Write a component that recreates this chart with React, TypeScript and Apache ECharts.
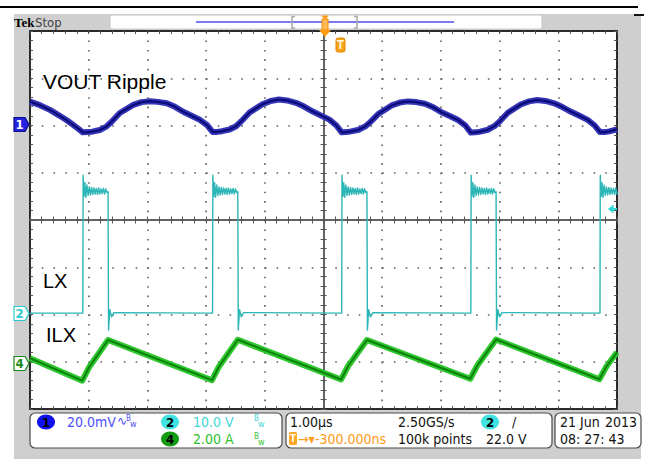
import React, { useEffect, useRef } from 'react';
import * as echarts from 'echarts';

// ---------- time base: 1.00 µs/div, 10 divisions ----------
const timeMin = 0;
const timeMax = 10;

// ---------- CH1 : VOUT ripple (mV), 20.0 mV/div, reference at division 6 ----------
const ch1PerDiv = 20;
const ch1RefDiv = 6;
const rippleT = [
  0.00, 0.17, 0.34, 0.50, 0.62, 0.74, 0.82, 0.90, 0.98, 1.06, 1.19, 1.30, 1.39, 1.53, 1.76, 1.90, 2.04, 2.18, 2.33, 2.47, 2.61, 2.76, 2.90, 3.02, 3.11,
  3.19, 3.27, 3.40, 3.51, 3.60, 3.74, 3.96, 4.10, 4.24, 4.38, 4.53, 4.67, 4.81, 4.96, 5.10, 5.22, 5.31,
  5.39, 5.47, 5.60, 5.71, 5.80, 5.94, 6.16, 6.30, 6.44, 6.58, 6.73, 6.87, 7.01, 7.16, 7.30, 7.42, 7.51,
  7.59, 7.67, 7.80, 7.91, 8.00, 8.14, 8.36, 8.50, 8.64, 8.78, 8.93, 9.07, 9.21, 9.36, 9.50, 9.62, 9.71,
  9.79, 9.87, 10.00,
];
const rippleMv = [
  10.1, 8.6, 6.6, 4.2, 2.3, 0.2, -1.3, -2.9, -2.8, -2.6, -1.9, -0.5, 1.6, 5.3, 8.7, 9.9, 10.3, 10.0, 9.4, 7.9, 5.8, 4.0, 2.3, 0.1, -2.7,
  -2.7, -2.4, -1.7, -0.3, 1.8, 5.5, 9.0, 10.4, 11.0, 10.6, 9.6, 8.0, 6.0, 4.2, 2.5, 0.0, -2.9,
  -2.8, -2.5, -1.8, -0.4, 1.5, 5.0, 8.5, 9.7, 10.2, 9.9, 9.2, 7.7, 5.6, 3.9, 2.2, -0.1, -3.0,
  -2.9, -2.6, -1.8, -0.3, 1.7, 5.4, 8.9, 10.2, 10.8, 10.4, 9.4, 7.8, 5.9, 4.1, 2.4, 0.0, -2.8,
  -2.8, -2.5, -1.6,
];

// ---------- CH2 : LX switch node (V), 10.0 V/div, reference at division 2 ----------
const ch2PerDiv = 10;
const ch2RefDiv = 2;
const lxRise = [0.90, 3.11, 5.31, 7.51, 9.71];
const lxFall = [1.33, 3.54, 5.74, 7.94];
const lxLow = 0.3;
const lxHigh = 26.0;
const lxRiseRingT = [0.005, 0.02, 0.035, 0.05, 0.07, 0.09, 0.11, 0.13, 0.15, 0.17, 0.19, 0.21, 0.23, 0.25, 0.27, 0.29, 0.31, 0.33, 0.35, 0.37, 0.39, 0.41];
const lxRiseRingV = [29.5, 25.0, 27.9, 24.8, 27.4, 25.2, 27.0, 25.3, 26.9, 25.4, 26.8, 25.5, 26.7, 25.4, 26.8, 25.5, 26.6, 25.6, 26.7, 25.5, 26.6, 25.8];
const lxFallRingT = [0.008, 0.03, 0.06, 0.1];
const lxFallRingV = [-3.3, 1.0, -0.5, 0.4];

// ---------- CH4 : ILX inductor current (A), 2.00 A/div, reference at division 1 ----------
const ch4PerDiv = 2;
const ch4RefDiv = 1;
const ilxT = [0.00, 0.89, 1.01, 1.33, 3.10, 3.22, 3.54, 5.30, 5.42, 5.74, 7.50, 7.62, 7.94, 9.70, 9.82, 10.00];
const ilxA = [0.15, -0.80, -0.22, 0.92, -0.78, -0.20, 0.93, -0.75, -0.18, 0.92, -0.72, -0.16, 0.94, -0.74, -0.20, 0.40];

// ---------- readout texts ----------
const ch1Scale = '20.0mV';
const ch2Scale = '10.0 V';
const ch4Scale = '2.00 A';
const timeScale = '1.00µs';
const sampleRate = '2.50GS/s';
const recordLen = '100k points';
const trigDelay = '-300.000ns';
const trigLevel = '22.0 V';
const dateText = '21 Jun';
const yearText = '2013';
const timeText = '08: 27: 43';

const buildLx = (): number[][] => {
  const pts: number[][] = [[timeMin, lxLow]];
  lxRise.forEach((r, i) => {
    pts.push([r, lxLow]);
    lxRiseRingT.forEach((dt, k) => {
      if (r + dt <= timeMax) pts.push([r + dt, lxRiseRingV[k]]);
    });
    const f = lxFall[i];
    if (f !== undefined) {
      pts.push([f, lxHigh]);
      lxFallRingT.forEach((dt, k) => pts.push([f + dt, lxFallRingV[k]]));
    } else {
      pts.push([timeMax, lxHigh]);
    }
  });
  return pts;
};

const zip = (a: number[], b: number[]) => a.map((v, i) => [v, b[i]]);

const GRID = { left: 30, top: 31, width: 587, height: 378 };
const NARROW = "'Liberation Sans Narrow', 'DejaVu Sans Condensed', sans-serif";
const SANS = "'Liberation Sans', Arial, sans-serif";

const txt = (x: number, y: number, text: string, fill: string, size = 14, family = NARROW, extra: any = {}) => ({
  type: 'text',
  x,
  y,
  z: extra.z ?? 50,
  style: {
    text,
    fill,
    fontSize: size,
    fontFamily: family,
    align: extra.align || 'left',
    verticalAlign: 'middle',
    textAlign: extra.align || 'left',
    textVerticalAlign: 'middle',
    fontWeight: extra.weight || 'normal',
  },
});

const gratAxis = (min: number, max: number, extra: any) => ({
  type: 'value',
  min,
  max,
  interval: 1,
  axisLabel: { show: false },
  ...extra,
});

export default function App() {
  const ref = useRef<HTMLDivElement>(null);
  useEffect(() => {
    if (!ref.current) return;
    const chart = echarts.init(ref.current, undefined, { renderer: 'svg' });

    const centerLine = { color: '#5a5a5a', width: 1.5 };
    const borderLine = { color: '#2a2a2a', width: 2 };
    const tickStyle = { color: '#555', width: 1 };

    const xAxes = [
      gratAxis(-5, 5, {
        position: 'bottom',
        axisLine: { show: true, onZero: true, onZeroAxisIndex: 0, lineStyle: centerLine },
        axisTick: { show: true, inside: false, length: 3.5, lineStyle: tickStyle },
        minorTick: { show: true, splitNumber: 5, length: 3.5, lineStyle: tickStyle },
        splitLine: { show: true, lineStyle: { color: '#5e5e5e', width: 1.6, type: [1.6, 7.85] } },
      }),
      gratAxis(-5, 5, {
        position: 'bottom',
        axisLine: { show: true, onZero: true, onZeroAxisIndex: 0, lineStyle: centerLine },
        axisTick: { show: true, inside: true, length: 3.5, lineStyle: tickStyle },
        minorTick: { show: true, splitNumber: 5, length: 3.5, lineStyle: tickStyle },
        splitLine: { show: false },
      }),
      gratAxis(-5, 5, {
        position: 'top',
        axisLine: { show: true, onZero: false, lineStyle: borderLine },
        axisTick: { show: true, inside: true, length: 3, lineStyle: tickStyle },
        minorTick: { show: true, splitNumber: 5, length: 3, lineStyle: tickStyle },
        splitLine: { show: false },
      }),
      gratAxis(-5, 5, {
        position: 'bottom',
        axisLine: { show: true, onZero: false, lineStyle: borderLine },
        axisTick: { show: true, inside: true, length: 3, lineStyle: tickStyle },
        minorTick: { show: true, splitNumber: 5, length: 3, lineStyle: tickStyle },
        splitLine: { show: false },
      }),
      { type: 'value', min: timeMin, max: timeMax, interval: 1, show: false },
    ];

    const yAxes = [
      gratAxis(-4, 4, {
        position: 'left',
        axisLine: { show: true, onZero: true, onZeroAxisIndex: 0, lineStyle: centerLine },
        axisTick: { show: true, inside: false, length: 3, lineStyle: tickStyle },
        minorTick: { show: true, splitNumber: 5, length: 3, lineStyle: tickStyle },
        splitLine: { show: true, lineStyle: { color: '#5e5e5e', width: 1.6, type: [1.6, 10.14] } },
      }),
      gratAxis(-4, 4, {
        position: 'left',
        axisLine: { show: true, onZero: true, onZeroAxisIndex: 0, lineStyle: centerLine },
        axisTick: { show: true, inside: true, length: 3, lineStyle: tickStyle },
        minorTick: { show: true, splitNumber: 5, length: 3, lineStyle: tickStyle },
        splitLine: { show: false },
      }),
      gratAxis(-4, 4, {
        position: 'left',
        axisLine: { show: true, onZero: false, lineStyle: borderLine },
        axisTick: { show: true, inside: true, length: 3, lineStyle: tickStyle },
        minorTick: { show: true, splitNumber: 5, length: 3, lineStyle: tickStyle },
        splitLine: { show: false },
      }),
      gratAxis(-4, 4, {
        position: 'right',
        axisLine: { show: true, onZero: false, lineStyle: borderLine },
        axisTick: { show: true, inside: true, length: 3, lineStyle: tickStyle },
        minorTick: { show: true, splitNumber: 5, length: 3, lineStyle: tickStyle },
        splitLine: { show: false },
      }),
      { type: 'value', min: -ch1RefDiv * ch1PerDiv, max: (8 - ch1RefDiv) * ch1PerDiv, interval: ch1PerDiv, show: false },
      { type: 'value', min: -ch2RefDiv * ch2PerDiv, max: (8 - ch2RefDiv) * ch2PerDiv, interval: ch2PerDiv, show: false },
      { type: 'value', min: -ch4RefDiv * ch4PerDiv, max: (8 - ch4RefDiv) * ch4PerDiv, interval: ch4PerDiv, show: false },
    ];

    const ripple = zip(rippleT, rippleMv);
    const ilx = zip(ilxT, ilxA);
    const lx = buildLx();

    const lineSeries = (data: number[][], yIdx: number, color: string, width: number, z: number) => ({
      type: 'line',
      xAxisIndex: 4,
      yAxisIndex: yIdx,
      data,
      showSymbol: false,
      symbol: 'none',
      z,
      lineStyle: { color, width, join: 'round' },
      silent: true,
    });

    // ---- decorations ----
    const tag = (y: number, fill: string, stroke: string, label: string, labelColor: string) => [
      {
        type: 'polygon',
        z: 40,
        shape: { points: [[14, y - 7], [25, y - 7], [29, y], [25, y + 7], [14, y + 7]] },
        style: { fill, stroke, lineWidth: 1.2 },
      },
      txt(19.5, y, label, labelColor, 13, NARROW, { weight: 'bold', align: 'center' }),
    ];
    const badge = (cx: number, cy: number, fill: string, label: string) => [
      { type: 'ellipse', z: 45, shape: { cx, cy, rx: 9, ry: 7.5 }, style: { fill } },
      txt(cx, cy, label, '#000', 13, NARROW, { align: 'center', weight: 'bold' }),
    ];
    const box = (x: number, w: number) => ({
      type: 'rect',
      z: 40,
      shape: { x, y: 413, width: w, height: 35, r: 5 },
      style: { fill: '#fff', stroke: '#4a4a4a', lineWidth: 1.2 },
    });
    const bw = (x: number, y: number, color: string) => [
      txt(x, y - 3, 'B', color, 8, NARROW),
      txt(x + 4, y + 3, 'w', color, 9, NARROW),
    ];

    const graphics: any[] = [
      { type: 'rect', z: -100, shape: { x: 14, y: 14, width: 627, height: 445 }, style: { fill: '#cfcfcf' } },
      { type: 'rect', z: -99, shape: { x: 0, y: 6, width: 638, height: 2 }, style: { fill: '#000' } },
      { type: 'rect', z: -99, shape: { x: 634, y: 14, width: 10, height: 2 }, style: { fill: '#111' } },
      // top record bar
      { type: 'rect', z: 30, shape: { x: 110, y: 15, width: 432, height: 14 }, style: { fill: '#fff', stroke: '#c4c4c4', lineWidth: 1 } },
      { type: 'line', z: 31, shape: { x1: 196, y1: 22, x2: 454, y2: 22 }, style: { stroke: '#7b7bf0', lineWidth: 2 } },
      { type: 'polyline', z: 32, shape: { points: [[295, 16.5], [292, 16.5], [292, 28], [295, 28]] }, style: { stroke: '#a8a8a8', lineWidth: 1.5, fill: null } },
      { type: 'polyline', z: 32, shape: { points: [[354, 16.5], [357, 16.5], [357, 28], [354, 28]] }, style: { stroke: '#a8a8a8', lineWidth: 1.5, fill: null } },
      { type: 'polygon', z: 33, shape: { points: [[321, 15.5], [329, 15.5], [325, 19.5]] }, style: { fill: '#ff9c12' } },
      { type: 'rect', z: 33, shape: { x: 322, y: 19, width: 6, height: 11 }, style: { fill: '#ffba55', stroke: '#f08a00', lineWidth: 1 } },
      { type: 'polygon', z: 60, shape: { points: [[319, 30], [331, 30], [325, 37]] }, style: { fill: '#ff9c12' } },
      // trigger marker inside graticule
      { type: 'rect', z: 60, shape: { x: 336, y: 38, width: 9, height: 14, r: 2 }, style: { fill: '#f7a21b', stroke: '#e08800', lineWidth: 1 } },
      txt(340.5, 45, 'T', '#fff6dc', 12, SANS, { align: 'center', weight: 'bold', z: 61 }),
      // header text
      txt(14, 22, 'Tek', '#000', 13, "'Liberation Serif', 'DejaVu Serif', serif", { weight: 'bold' }),
      txt(35, 22, 'Stop', '#444', 13, NARROW),
      // channel reference tags
      ...tag(124.5, '#2323e0', '#10108a', '1', '#ffffff'),
      ...tag(313.5, '#ffffff', '#2ccaca', '2', '#2ccaca'),
      ...tag(363.5, '#ffffff', '#1a8a1a', '4', '#1a8a1a'),
      // trigger level marker (right edge)
      { type: 'polygon', z: 60, shape: { points: [[608, 209], [613.5, 204.5], [613.5, 213.5]] }, style: { fill: '#2ad8d8' } },
      { type: 'rect', z: 60, shape: { x: 613, y: 208, width: 4, height: 2 }, style: { fill: '#2ad8d8' } },
      // trace labels
      txt(43, 81.5, 'VOUT Ripple', '#000', 21, SANS),
      txt(43, 280.5, 'LX', '#000', 20, SANS),
      txt(46, 335, 'ILX', '#000', 20, SANS),
      // readout boxes
      box(30, 252),
      box(286, 266),
      box(555, 86),
      ...badge(46, 422, '#1010ee', '1'),
      txt(67, 422, ch1Scale, '#4d4dff', 14),
      txt(117, 421, '∿', '#4d4dff', 12, "'DejaVu Sans', sans-serif"),
      ...bw(126, 421, '#4d4dff'),
      ...badge(170, 422, '#40e2e2', '2'),
      txt(193, 422, ch2Scale, '#3fd6d6', 14),
      ...bw(254, 421, '#3fd6d6'),
      ...badge(170, 439, '#149c14', '4'),
      txt(193, 439, ch4Scale, '#2fbf2f', 14),
      ...bw(254, 439, '#2fbf2f'),
      txt(290, 422, timeScale, '#111', 14),
      txt(398, 422, sampleRate, '#111', 14),
      ...badge(490, 422, '#40e2e2', '2'),
      txt(512, 422, '/', '#111', 14),
      { type: 'rect', z: 45, shape: { x: 289, y: 432, width: 8, height: 13, r: 1.5 }, style: { fill: '#ffa726' } },
      txt(293, 438.5, 'T', '#fff', 10, SANS, { align: 'center', weight: 'bold' }),
      txt(298, 439, '→▾' + trigDelay, '#ff9a1a', 14),
      txt(398, 439, recordLen, '#111', 14),
      txt(486, 439, trigLevel, '#111', 14),
      txt(560, 422, dateText, '#111', 14),
      txt(637, 422, yearText, '#111', 14, NARROW, { align: 'right' }),
      txt(560, 439, timeText, '#111', 14),
    ];

    chart.setOption({
      animation: false,
      backgroundColor: '#ffffff',
      grid: { ...GRID, show: true, backgroundColor: '#ffffff', borderWidth: 0, containLabel: false },
      xAxis: xAxes,
      yAxis: yAxes,
      series: [
        lineSeries(lx, 5, '#2cb6b6', 1.4, 10),
        lineSeries(ilx, 6, '#2ec82e', 6, 11),
        lineSeries(ilx, 6, '#0d800d', 2, 12),
        lineSeries(ripple, 4, '#3535b8', 6, 13),
        lineSeries(ripple, 4, '#0b0b78', 2.2, 14),
      ],
      graphic: { elements: graphics },
    });
    return () => chart.dispose();
  }, []);

  return <div ref={ref} style={{ position: 'fixed', left: 0, top: 0, width: 649, height: 459 }} />;
}
